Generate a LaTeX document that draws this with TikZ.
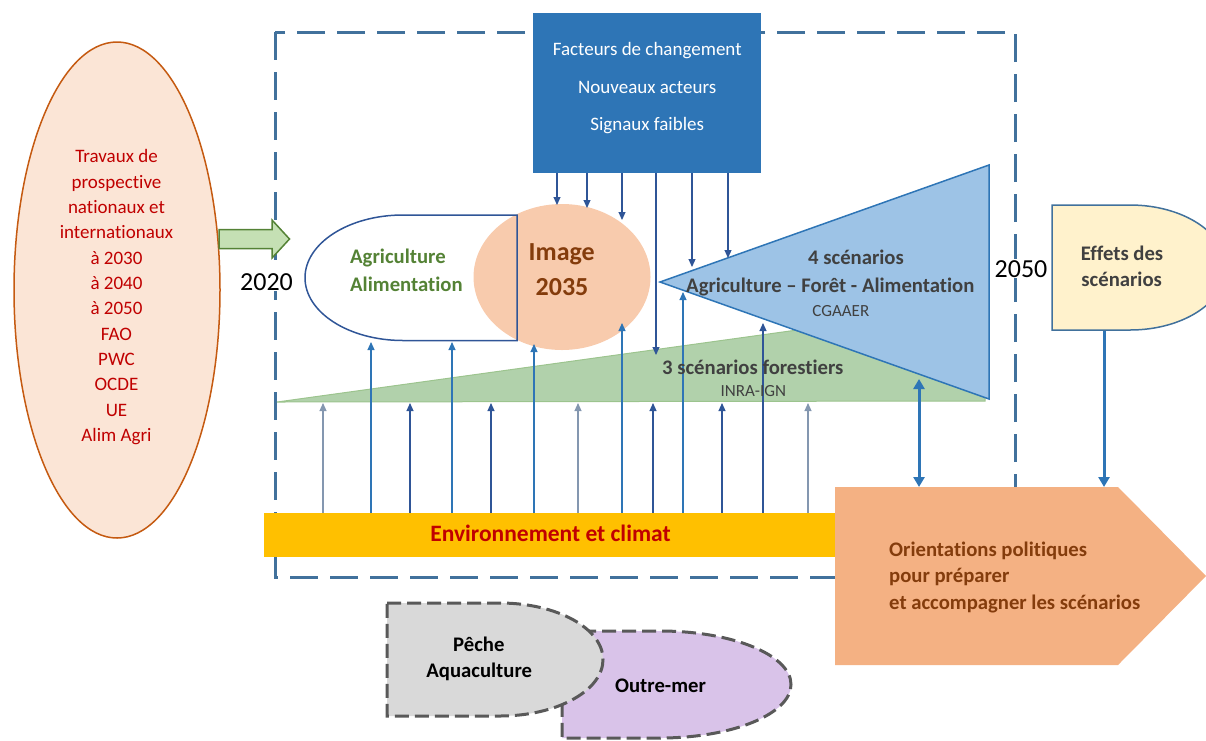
\documentclass[tikz,border=0pt]{standalone}
\usepackage{fontspec}
\setmainfont{Carlito}[Ligatures=NoCommon]
\usetikzlibrary{arrows.meta,shapes.geometric}

\definecolor{cadre}{HTML}{41719C}
\definecolor{bleufonce}{HTML}{2E75B6}
\definecolor{bleunuit}{HTML}{2F5597}
\definecolor{bleugris}{HTML}{8497B0}
\definecolor{bleuclair}{HTML}{9DC3E6}
\definecolor{rougetxt}{HTML}{C00000}
\definecolor{saumon}{HTML}{FBE5D6}
\definecolor{orangebord}{HTML}{C55A11}
\definecolor{vertclair}{HTML}{C5E0B4}
\definecolor{vertfonce}{HTML}{548235}
\definecolor{vertforet}{HTML}{B1D1AB}
\definecolor{vertbord}{HTML}{9CC48E}
\definecolor{rose}{HTML}{F8CBAD}
\definecolor{brun}{HTML}{843C0C}
\definecolor{gristxt}{HTML}{404040}
\definecolor{jaune}{HTML}{FFC000}
\definecolor{orangepol}{HTML}{F4B183}
\definecolor{creme}{HTML}{FFF2CC}
\definecolor{grisclair}{HTML}{D9D9D9}
\definecolor{grisbord}{HTML}{595959}
\definecolor{lavande}{HTML}{D9C3E9}

\tikzset{
	txt/.style={inner sep=0pt, anchor=base, font=\fontsize{19}{23}\selectfont},
	petit/.style={inner sep=0pt, anchor=base, font=\fontsize{17}{21}\selectfont},
	gras/.style={inner sep=0pt, anchor=base, font=\bfseries\fontsize{20.7}{25}\selectfont},
	annee/.style={inner sep=1pt, anchor=base, fill=white, font=\fontsize{26}{30}\selectfont},
	fleche/.style={-{Triangle[width=7pt,length=8pt]}, line width=1.1pt},
	grossefleche/.style={line width=3pt, bleufonce},
	pointilles/.style={line width=3pt, dash pattern=on 28pt off 12pt},
	tirets/.style={line width=3pt, dash pattern=on 14pt off 6pt, draw=grisbord}
}

\begin{document}
\begin{tikzpicture}[x=1pt,y=-1pt]
	\useasboundingbox (0,0) rectangle (1206,740);
	\clip (0,0) rectangle (1206,740);

	% cadre 2020 - 2050
	\draw[pointilles, cadre] (275,32) rectangle (1015,577);

	% travaux de prospective
	\node[ellipse, draw=orangebord, fill=saumon, line width=1.5pt, minimum width=206pt, minimum height=496pt, inner sep=0pt] (travaux) at (117,290) {};
	\foreach \t [count=\i] in {Travaux de, prospective, nationaux et, internationaux, à 2030, à 2040, à 2050, FAO, PWC, OCDE, UE, Alim Agri}
		\node[txt, rougetxt] (trav\i) at (116.5,{162.7+25.36*(\i-1)}) {\t};

	\draw[vertfonce, fill=vertclair, line width=1.5pt] (219,229.5) -- (272,229.5) -- (272,220) -- (289.5,239) -- (272,258) -- (272,248.5) -- (219,248.5) -- cycle;

	\node[annee] (an2020) at (266.5,290) {2020};
	\node[annee] (an2050) at (1021,277.3) {2050};

	% facteurs de changement
	\node[fill=bleufonce, minimum width=228pt, minimum height=160pt, inner sep=0pt] (facteurs) at (646.5,92.7) {};
	\node[txt, white] (fac1) at (647.2,55.5) {Facteurs de changement};
	\node[txt, white] (fac2) at (647.2,93) {Nouveaux acteurs};
	\node[txt, white] (fac3) at (647.2,130.5) {Signaux faibles};

	% scenarios
	\filldraw[fill=vertforet, draw=vertbord, line width=1pt] (277,402) -- (985,304) -- (985,401) -- cycle;
	\filldraw[fill=bleuclair, draw=bleufonce, line width=1.5pt] (660,282) -- (989,165) -- (989,399) -- cycle;

	% image 2035
	\node[ellipse, fill=rose, minimum width=177pt, minimum height=146pt, inner sep=0pt] (image) at (562,277) {};
	\draw[bleunuit, line width=1.5pt] (517,215) -- (403,215) arc[start angle=90, end angle=270, x radius=98pt, y radius=62.75pt] -- (517,340.5) -- cycle;

	% environnement
	\node[fill=jaune, minimum width=571pt, minimum height=44pt, inner sep=0pt] (env) at (549.5,535) {};

	\foreach \x/\y in {557/205, 587/208, 622/220, 656/355, 692/267, 728/258}{
		\coordinate (d\x) at (\x,\y);
		\draw[fleche, color=bleunuit] (facteurs.south -| d\x) -- (d\x);
	}
	\foreach \x/\y/\c in {323/403/bleugris, 371/342/bleufonce, 410/403/bleunuit, 452/342/bleufonce, 491/403/bleunuit, 534/344/bleufonce, 578/403/bleugris, 622/323/bleufonce, 653/403/bleunuit, 683/292/bleufonce, 722/403/bleunuit, 763/323/bleunuit, 808/403/bleugris}{
		\coordinate (u\x) at (\x,\y);
		\draw[fleche, color=\c] (env.north -| u\x) -- (u\x);
	}

	\node[gras, rougetxt, font=\bfseries\fontsize{23.5}{28}\selectfont] (envtxt) at (550.5,541.7) {Environnement et climat};

	% orientations politiques
	\fill[orangepol] (835,487) coordinate (or1) -- (1118,487) -- (1206,576) -- (1118,665) -- (835,665) -- cycle;
	\node[gras, brun, anchor=base west] (or2) at (889,556) {Orientations politiques};
	\node[gras, brun, anchor=base west] (or3) at (889,582.7) {pour préparer};
	\node[gras, brun, anchor=base west] (or4) at (889,609.3) {et accompagner les scénarios};

	% effets des scenarios
	\filldraw[fill=creme, draw=cadre, line width=1.5pt] (1052,205) -- (1130,205) arc[start angle=90, end angle=-90, x radius=96pt, y radius=62.5pt] -- (1052,330) -- cycle;
	\node[gras, gristxt] (eff1) at (1122,260) {Effets des};
	\node[gras, gristxt] (eff2) at (1121.7,286.7) {scénarios};

	\coordinate (scbas) at (919,379);
	\coordinate (effbas) at (1104,331);
	\draw[grossefleche, {Triangle[width=11pt,length=10pt]}-{Triangle[width=11pt,length=10pt]}] (scbas) -- (scbas |- or1);
	\draw[grossefleche, -{Triangle[width=11pt,length=10pt]}] (effbas) -- (effbas |- or1);

	% outre-mer et peche
	\filldraw[fill=lavande, tirets] (562,631) -- (660,631) arc[start angle=90, end angle=-90, x radius=131pt, y radius=53.5pt] -- (562,738) -- cycle;
	\filldraw[fill=grisclair, tirets] (387,603) -- (500,603) arc[start angle=90, end angle=-90, x radius=103pt, y radius=56.5pt] -- (387,716) -- cycle;
	\node[gras] (pe1) at (478.8,651.7) {Pêche};
	\node[gras] (pe2) at (479.2,677.3) {Aquaculture};
	\node[gras] (om) at (660.5,692.7) {Outre-mer};

	% textes
	\node[gras, vertfonce, anchor=base west] (agri1) at (350,263.3) {Agriculture};
	\node[gras, vertfonce, anchor=base west] (agri2) at (350,291.7) {Alimentation};
	\node[gras, brun, font=\bfseries\fontsize{26}{30}\selectfont] (im1) at (561.7,260) {Image};
	\node[gras, brun, font=\bfseries\fontsize{26}{30}\selectfont] (im2) at (562,295) {2035};
	\node[gras, gristxt] (sc1) at (856,264) {4 scénarios};
	\node[gras, gristxt] (sc2) at (830.3,292.7) {Agriculture – Forêt - Alimentation};
	\node[petit, gristxt] (sc3) at (840.8,316.7) {CGAAER};
	\node[gras, gristxt] (for1) at (752.8,374) {3 scénarios forestiers};
	\node[petit, gristxt] (for2) at (753.3,396) {INRA-IGN};
\end{tikzpicture}
\end{document}
